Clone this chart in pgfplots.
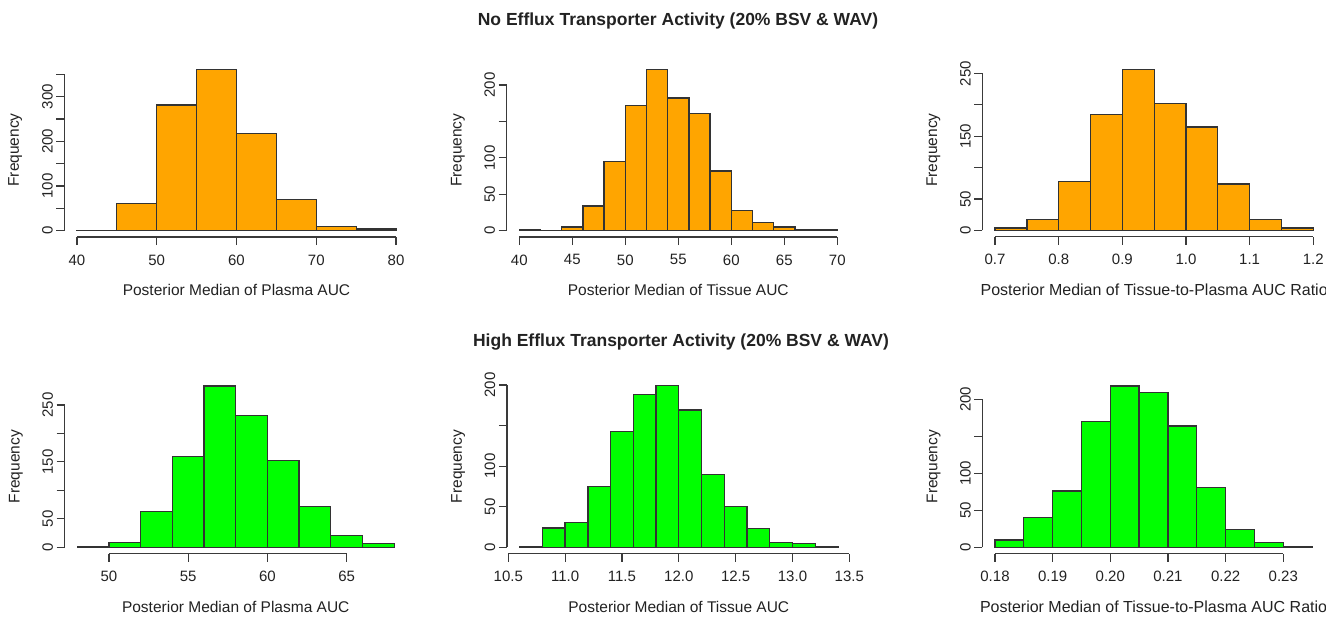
\documentclass[border=0pt]{standalone}
\usepackage{fontspec}
\setmainfont{Liberation Sans}
\usepackage{pgfplots}
\pgfplotsset{compat=1.18}
\definecolor{rorange}{HTML}{FFA500}
\definecolor{rgreen}{HTML}{00FF00}
\definecolor{axcol}{HTML}{3A3A3A}
\definecolor{txtcol}{HTML}{222222}
\pgfplotsset{
  rhist/.style={
    scale only axis, anchor=south west, clip=false,
    axis lines=left, axis line style={draw=none},
    tick align=outside, major tick length=8pt,
    tick style={axcol, line width=1.2pt},
    xtick pos=bottom, ytick pos=left,
    tick label style={font=\fontsize{15}{18}\selectfont, text=txtcol},
    label style={font=\fontsize{15.5}{18}\selectfont, text=txtcol},
    xticklabel shift=6pt,
    yticklabel style={rotate=90, anchor=south},
    ylabel={Frequency},
    ylabel style={at={(axis description cs:-0.142,0.5)}, anchor=center, rotate=0},
    xlabel style={at={(axis description cs:0.5,-0.337)}, anchor=base},
  },
  rbar/.style={ybar interval, draw=black!80, line width=1.3pt, fill=#1},
}
\begin{document}
\begin{tikzpicture}
\path[use as bounding box] (0,0) rectangle (1338pt,616pt);
\clip (0,0) rectangle (1325pt,616pt);
\node[anchor=base, font=\bfseries\fontsize{17.5}{20}\selectfont, text=txtcol] at (678pt,590.8pt) {No Efflux Transporter Activity (20\% BSV \& WAV)};
\node[anchor=base, font=\bfseries\fontsize{17.5}{20}\selectfont, text=txtcol] at (681pt,269.8pt) {High Efflux Transporter Activity (20\% BSV \& WAV)};

% Panel 1
\begin{axis}[rhist, at={(64.2pt,378.9pt)}, width=344.6pt, height=174.2pt,
  xmin=38.4, xmax=81.6, ymin=-14.44, ymax=375.44,
  xtick={40,50,60,70,80}, xticklabels={40,50,60,70,80},
  ytick={0,50,...,350}, yticklabels={0,,100,,200,,300,},
  xlabel={Posterior Median of Plasma AUC}]
\addplot[rbar=rorange] coordinates {(40,1) (45,60) (50,281) (55,361) (60,218) (65,69) (70,9) (75,4) (80,0)};
\draw[axcol, line width=1.2pt] (axis cs:40,-14.44) -- (axis cs:80,-14.44);
\draw[axcol, line width=1.2pt] (axis cs:38.4,0) -- (axis cs:38.4,350);
\end{axis}

% Panel 2
\begin{axis}[rhist, at={(506.6pt,378.9pt)}, width=343.4pt, height=173.8pt,
  xmin=38.8, xmax=71.2, ymin=-8.84, ymax=229.84,
  xtick={40,45,...,70}, xticklabels={40,45,50,55,60,65,70},
  ytick={0,50,...,200}, yticklabels={0,50,100,,200},
  xlabel={Posterior Median of Tissue AUC}]
\addplot[rbar=rorange] coordinates {(40,1) (42,0) (44,5) (46,34) (48,95) (50,172) (52,221) (54,182) (56,161) (58,82) (60,28) (62,11) (64,5) (66,1) (68,2) (70,0)};
\draw[axcol, line width=1.2pt] (axis cs:40,-8.84) -- (axis cs:70,-8.84);
\draw[axcol, line width=1.2pt] (axis cs:38.8,0) -- (axis cs:38.8,200);
\end{axis}

% Panel 3
\begin{axis}[rhist, at={(982.3pt,379.1pt)}, width=343.7pt, height=173.6pt,
  xmin=0.68, xmax=1.22, ymin=-10.24, ymax=266.24,
  xtick={0.7,0.8,0.9,1.0,1.1,1.2}, xticklabels={0.7,0.8,0.9,1.0,1.1,1.2},
  ytick={0,50,...,250}, yticklabels={0,50,,150,,250},
  xlabel={Posterior Median of Tissue-to-Plasma AUC Ratio},
  xlabel style={font=\fontsize{16}{18}\selectfont}]
\addplot[rbar=rorange] coordinates {(0.70,4) (0.75,18) (0.80,78) (0.85,185) (0.90,256) (0.95,202) (1.00,165) (1.05,74) (1.10,18) (1.15,4) (1.20,0)};
\draw[axcol, line width=1.2pt] (axis cs:0.7,-10.24) -- (axis cs:1.2,-10.24);
\draw[axcol, line width=1.2pt] (axis cs:0.68,0) -- (axis cs:0.68,250);
\end{axis}

% Panel 4
\begin{axis}[rhist, at={(64.6pt,62.3pt)}, width=342.3pt, height=174pt,
  xmin=47.2, xmax=68.8, ymin=-11.32, ymax=294.32,
  xtick={50,55,60,65}, xticklabels={50,55,60,65},
  ytick={0,50,...,250}, yticklabels={0,50,,150,,250},
  xlabel={Posterior Median of Plasma AUC}]
\addplot[rbar=rgreen] coordinates {(48,1) (50,8) (52,63) (54,159) (56,283) (58,231) (60,152) (62,71) (64,21) (66,6) (68,0)};
\draw[axcol, line width=1.2pt] (axis cs:50,-11.32) -- (axis cs:65,-11.32);
\draw[axcol, line width=1.2pt] (axis cs:47.2,0) -- (axis cs:47.2,250);
\end{axis}

% Panel 5
\begin{axis}[rhist, at={(506.9pt,62.2pt)}, width=343.8pt, height=174.5pt,
  xmin=10.488, xmax=13.512, ymin=-7.96, ymax=206.96,
  xtick={10.5,11,11.5,12,12.5,13,13.5}, xticklabels={10.5,11.0,11.5,12.0,12.5,13.0,13.5},
  ytick={0,50,...,200}, yticklabels={0,50,100,,200},
  xlabel={Posterior Median of Tissue AUC}]
\addplot[rbar=rgreen] coordinates {(10.6,1) (10.8,24) (11.0,31) (11.2,75) (11.4,143) (11.6,188) (11.8,199) (12.0,169) (12.2,90) (12.4,50) (12.6,23) (12.8,6) (13.0,5) (13.2,1) (13.4,0)};
\draw[axcol, line width=1.2pt] (axis cs:10.5,-7.96) -- (axis cs:13.5,-7.96);
\draw[axcol, line width=1.2pt] (axis cs:10.488,0) -- (axis cs:10.488,200);
\end{axis}

% Panel 6
\begin{axis}[rhist, at={(982.3pt,62.2pt)}, width=342.5pt, height=174.3pt,
  xmin=0.1778, xmax=0.2372, ymin=-8.72, ymax=226.72,
  xtick={0.18,0.19,0.20,0.21,0.22,0.23}, xticklabels={0.18,0.19,0.20,0.21,0.22,0.23},
  ytick={0,50,...,200}, yticklabels={0,50,100,,200},
  xlabel={Posterior Median of Tissue-to-Plasma AUC Ratio},
  xlabel style={font=\fontsize{16}{18}\selectfont}]
\addplot[rbar=rgreen] coordinates {(0.180,10) (0.185,40) (0.190,76) (0.195,170) (0.200,218) (0.205,209) (0.210,164) (0.215,81) (0.220,24) (0.225,7) (0.230,1) (0.235,0)};
\draw[axcol, line width=1.2pt] (axis cs:0.18,-8.72) -- (axis cs:0.23,-8.72);
\draw[axcol, line width=1.2pt] (axis cs:0.1778,0) -- (axis cs:0.1778,200);
\end{axis}
\end{tikzpicture}
\end{document}
